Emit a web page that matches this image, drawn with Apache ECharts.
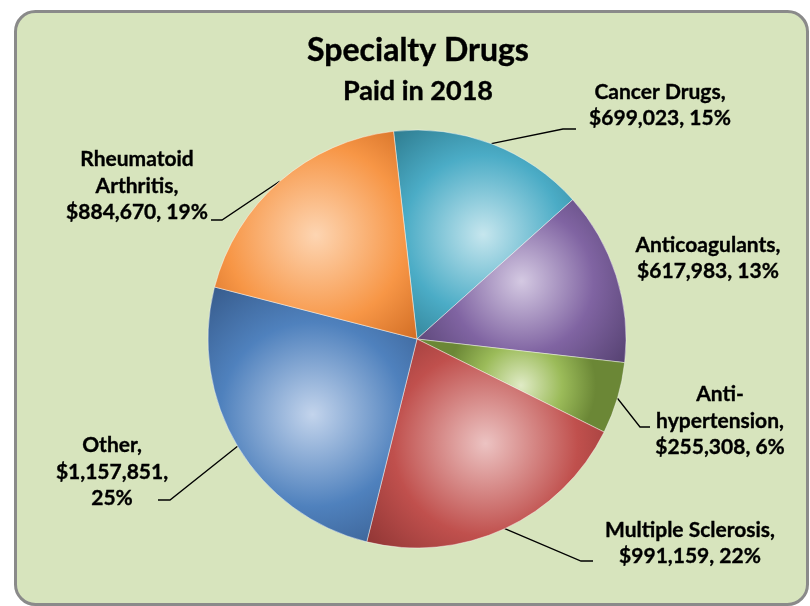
<!DOCTYPE html>
<html>
<head>
<meta charset="utf-8">
<title>Specialty Drugs</title>
<script src="https://cdn.jsdelivr.net/npm/echarts@6/dist/echarts.min.js"></script>
<style>
  html, body { margin: 0; padding: 0; background: #ffffff; }
  #chart { width: 810px; height: 606px; }
</style>
</head>
<body>
<div id="chart"></div>
<script>
// Specialty drug spend, 2018 (clockwise from the top)
const categories = ['Cancer Drugs', 'Anticoagulants', 'Anti-hypertension', 'Multiple Sclerosis', 'Other', 'Rheumatoid Arthritis'];
const amounts = [699023, 617983, 255308, 991159, 1157851, 884670];

const titleText = 'Specialty Drugs';
const subtitleText = 'Paid in 2018';

// Slice shading: highlight, base and shade of each fill
const sliceColors = [
  { light: '#c6e6ee', base: '#4bacc6', dark: '#2b7689' },
  { light: '#d4c9e2', base: '#8064a2', dark: '#564272' },
  { light: '#e0ebc6', base: '#9bbb59', dark: '#6b8736' },
  { light: '#ecc3c2', base: '#c0504d', dark: '#873130' },
  { light: '#c3d4ec', base: '#4f81bd', dark: '#355888' },
  { light: '#fdd5b2', base: '#f79646', dark: '#c5601a' }
];

// Label placement: block centre, wrap width (characters), and leader hook
// (end point relative to the block centre, length of the horizontal tail)
const labelPlacement = [
  { x: 660, y: 105, wrap: 15, hook: [-84, 24], tail: 13 },
  { x: 708, y: 258, wrap: 15, hook: null },
  { x: 720, y: 421, wrap: 15, hook: [-70, 6], tail: 10 },
  { x: 690, y: 543, wrap: 19, hook: [-97, 18], tail: 12 },
  { x: 112, y: 472, wrap: 12, hook: [46, 28], tail: 12 },
  { x: 137, y: 186, wrap: 13, hook: [74, 34], tail: 11 }
];

const FONT = 'Lato, "Open Sans", sans-serif';

function money(v) {
  return '$' + v.toLocaleString('en-US');
}

// Greedy wrap on spaces and after hyphens
function wrapText(text, maxChars) {
  const tokens = [];
  text.split(' ').forEach(function (word, wi) {
    const parts = word.split(/(?<=-)/);
    parts.forEach(function (p, pi) {
      tokens.push({ t: p, space: wi > 0 && pi === 0 });
    });
  });
  const lines = [];
  let cur = '';
  tokens.forEach(function (tok) {
    if (!cur) { cur = tok.t; return; }
    const joined = cur + (tok.space ? ' ' : '') + tok.t;
    if (joined.length <= maxChars) {
      cur = joined;
    } else {
      lines.push(cur);
      cur = tok.t;
    }
  });
  if (cur) lines.push(cur);
  return lines.join('\n');
}

function sliceFill(c) {
  return {
    type: 'radial', x: 0.5, y: 0.5, r: 0.8,
    colorStops: [
      { offset: 0, color: c.light },
      { offset: 0.55, color: c.base },
      { offset: 1, color: c.dark }
    ]
  };
}

const pieData = categories.map(function (name, i) {
  const item = {
    name: name,
    value: amounts[i],
    itemStyle: { color: sliceFill(sliceColors[i]) }
  };
  if (!labelPlacement[i].hook) {
    item.labelLine = { show: false };
  }
  return item;
});

const chart = echarts.init(document.getElementById('chart'), null, { renderer: 'canvas' });

chart.setOption({
  backgroundColor: 'transparent',
  animation: false,
  graphic: [{
    type: 'rect',
    z: -10,
    silent: true,
    shape: { x: 15.5, y: 11.5, width: 792, height: 593, r: 20 },
    style: { fill: '#d7e4bd', stroke: '#8a8a8a', lineWidth: 3 }
  }],
  title: [{
    text: titleText,
    left: 413,
    top: 30,
    textAlign: 'center',
    textStyle: {
      fontFamily: FONT, fontWeight: 'bold', fontSize: 32, color: '#000000',
      textBorderColor: '#000000', textBorderWidth: 0.4
    }
  }, {
    text: subtitleText,
    left: 413,
    top: 73,
    textAlign: 'center',
    textStyle: {
      fontFamily: FONT, fontWeight: 'bold', fontSize: 27, color: '#000000',
      textBorderColor: '#000000', textBorderWidth: 0.4
    }
  }],
  series: [{
    type: 'pie',
    center: [417, 339],
    radius: 209,
    startAngle: 96.45,
    clockwise: true,
    percentPrecision: 0,
    avoidLabelOverlap: false,
    emphasis: { disabled: true },
    itemStyle: { borderColor: 'rgba(255,255,255,0.55)', borderWidth: 0.8 },
    label: {
      show: true,
      position: 'outside',
      fontFamily: FONT,
      fontWeight: 'bold',
      fontSize: 21,
      lineHeight: 26.5,
      color: '#000000',
      textBorderColor: '#000000',
      textBorderWidth: 0.35,
      formatter: function (p) {
        const txt = p.name + ', ' + money(p.value) + ', ' + p.percent + '%';
        return wrapText(txt, labelPlacement[p.dataIndex].wrap);
      }
    },
    labelLine: {
      show: true,
      length: 6,
      length2: 6,
      smooth: false,
      lineStyle: { color: '#000000', width: 1.3 }
    },
    labelLayout: function (params) {
      const spot = labelPlacement[params.dataIndex];
      const out = { x: spot.x, y: spot.y, align: 'center', verticalAlign: 'middle' };
      if (spot.hook && params.labelLinePoints) {
        const anchor = params.labelLinePoints[0];
        const end = [spot.x + spot.hook[0], spot.y + spot.hook[1]];
        const dir = spot.hook[0] < 0 ? -1 : 1;
        const elbow = [end[0] + dir * spot.tail, end[1]];
        out.labelLinePoints = [anchor, elbow, end];
      }
      return out;
    },
    data: pieData
  }]
});
</script>
</body>
</html>
